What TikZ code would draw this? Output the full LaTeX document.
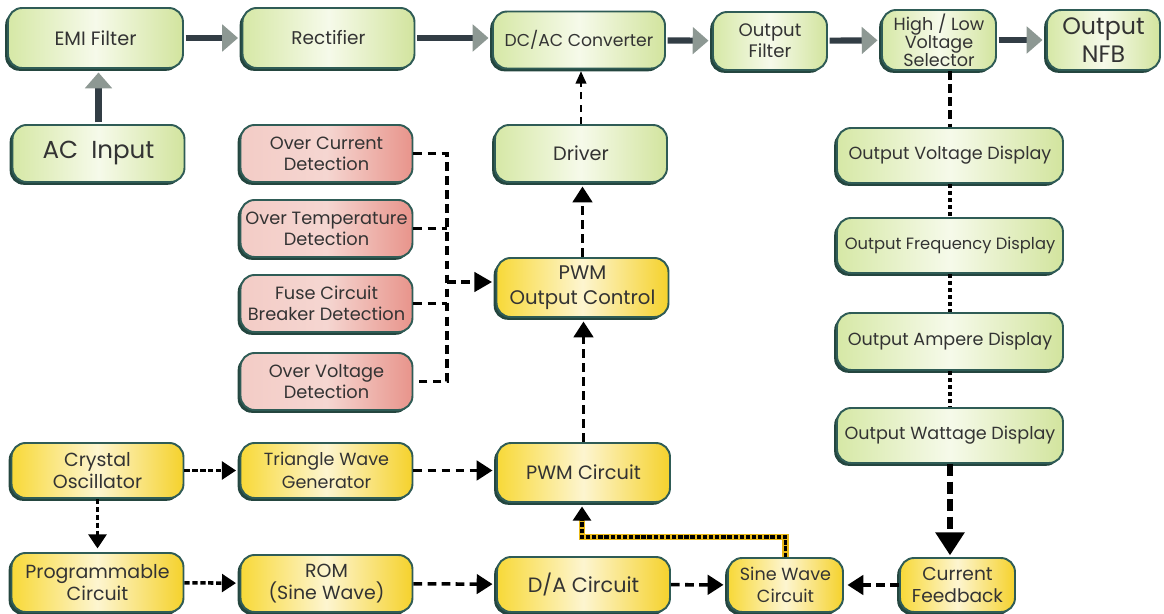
\documentclass[tikz,border=0pt]{standalone}
\usepackage{fontspec}
\setmainfont{Poppins}
\usetikzlibrary{arrows.meta}
\usetikzlibrary{shadows}
\definecolor{boxline}{HTML}{2F5C56}
\definecolor{shadowc}{HTML}{24463F}
\definecolor{txt}{HTML}{333333}
\definecolor{gA}{HTML}{D6E8A6}
\definecolor{gB}{HTML}{F6FAEA}
\definecolor{gC}{HTML}{D2E49E}
\definecolor{rA}{HTML}{F3CCC6}
\definecolor{rB}{HTML}{F5D6D1}
\definecolor{rC}{HTML}{E8948B}
\definecolor{yA}{HTML}{F8D938}
\definecolor{yB}{HTML}{FDF5D0}
\definecolor{yC}{HTML}{F5D22C}
\definecolor{arrgray}{HTML}{8D9893}
\definecolor{shaft}{HTML}{323D45}
\definecolor{ytrack}{HTML}{E8B818}
\newcommand{\fsz}[2]{\fontsize{#1}{#2}\selectfont}
\tikzset{
  box/.style={draw=boxline,line width=1.1pt,rounded corners=8pt,align=center,
    text=txt,font=\fsz{10}{12},inner sep=2pt,
    minimum width=3.44cm,minimum height=1.14cm,
    drop shadow={shadow xshift=-1.6pt,shadow yshift=-1.6pt,fill=shadowc,opacity=1}},
  gbox/.style={box,left color=gA,right color=gC,middle color=gB},
  rbox/.style={box,left color=rA,right color=rC,middle color=rB},
  ybox/.style={box,left color=yA,right color=yC,middle color=yB,font=\fsz{10.8}{13}},
  garrow/.style={draw=shaft,line width=3.5pt,shorten <=1pt,shorten >=2pt,
    -{Triangle[length=9pt,width=15pt,color=arrgray]}},
  darr/.style={line width=2pt,dash pattern=on 5pt off 3pt,shorten >=2pt,
    -{Triangle[length=9pt,width=11pt]}},
  dotarr/.style={line width=2pt,dash pattern=on 3pt off 1.5pt,shorten >=2pt,
    -{Triangle[length=8pt,width=10pt]}},
  thinarr/.style={line width=1.1pt,dash pattern=on 4pt off 3pt,shorten >=1pt,
    -{Triangle[length=7pt,width=6pt]}},
  busline/.style={line width=1.8pt,dash pattern=on 5pt off 3pt},
  sline/.style={line width=2.6pt,dash pattern=on 5pt off 2.5pt},
  dotline/.style={line width=2pt,dash pattern=on 2.5pt off 1.5pt},
  bigarr/.style={line width=3pt,dash pattern=on 7pt off 3pt,shorten >=1pt,
    -{Triangle[length=13pt,width=16pt]}}
}
\begin{document}
\begin{tikzpicture}[x=0.02cm,y=-0.02cm]
\useasboundingbox (0,0) rectangle (1164,614);
\node[gbox,minimum width=3.5cm,minimum height=1.2cm,font=\fsz{11}{13}] (emi) at (95.5,38) {EMI Filter};
\node[gbox,minimum height=1.2cm,font=\fsz{10.5}{13}] (rect) at (328.5,38) {Rectifier};
\node[gbox,font=\fsz{9.8}{12}] (dcac) at (579,40) {DC/AC Converter};
\node[gbox,minimum width=2.28cm,minimum height=1.16cm,font=\fsz{10.3}{12}] (ofilt) at (770,41) {Output\\Filter};
\node[gbox,minimum width=2.28cm,minimum height=1.2cm,
  font=\fsz{10}{10.3}] (sel) at (939,40) {High / Low\\Voltage\\Selector};
\node[gbox,minimum width=2.26cm,minimum height=1.2cm,
  font=\fsz{13.5}{16}] (nfb) at (1103.5,40) {Output\\NFB};
\node[gbox,font=\fsz{14}{16}] (acin) at (98.5,153.5) {AC\ \ Input};
\node[rbox,font=\fsz{10.1}{12}] (ocd) at (326.5,153.5) {Over Current\\Detection};
\node[rbox,font=\fsz{10.1}{12}] (otd) at (326.5,228.5) {Over Temperature\\Detection};
\node[rbox,font=\fsz{10.1}{12}] (fcb) at (326.5,303.5) {Fuse Circuit\\Breaker Detection};
\node[rbox,font=\fsz{10.1}{12}] (ovd) at (326.5,381.5) {Over Voltage\\Detection};
\node[gbox,font=\fsz{11}{13}] (drv) at (581,153.5) {Driver};
\node[ybox,minimum height=1.18cm,font=\fsz{11.2}{14}] (pwmoc) at (582.5,287.5) {PWM\\Output Control};
\node[gbox,minimum width=4.52cm,minimum height=1.1cm] (ovdisp) at (950,155.5) {Output Voltage Display};
\node[gbox,minimum width=4.52cm,minimum height=1.1cm,font=\fsz{9.3}{12}] (ofdisp) at (950,245.5) {Output Frequency Display};
\node[gbox,minimum width=4.52cm,minimum height=1.14cm] (oadisp) at (950,341.5) {Output Ampere Display};
\node[gbox,minimum width=4.52cm,minimum height=1.1cm] (owdisp) at (950,435.5) {Output Wattage Display};
\node[ybox,minimum height=1.1cm] (xtal) at (97.5,470.5) {Crystal\\Oscillator};
\node[ybox,minimum height=1.1cm,font=\fsz{10}{13}] (tri) at (326.5,470.5) {Triangle Wave\\Generator};
\node[ybox,minimum width=3.46cm,minimum height=1.18cm,font=\fsz{11}{13}] (pwmc) at (583.5,472.5) {PWM Circuit};
\node[ybox,minimum height=1.18cm] (prog) at (97.5,582.5) {Programmable\\Circuit};
\node[ybox] (rom) at (326.5,583.5) {ROM\\(Sine Wave)};
\node[ybox,minimum width=3.46cm,minimum height=1.1cm,font=\fsz{11.8}{13}] (da) at (583.5,584.5) {D/A Circuit};
\node[ybox,minimum width=2.3cm,minimum height=1.08cm,font=\fsz{10}{12.5}] (sine) at (785.5,585) {Sine Wave\\Circuit};
\node[ybox,minimum width=2.3cm,minimum height=1.08cm,font=\fsz{10.6}{12.5}] (cfb) at (957.5,585) {Current\\Feedback};
\draw[garrow] (emi) -- (rect);
\draw[garrow] (rect.east) -- (rect.east -| dcac.west);
\draw[garrow] (dcac) -- (ofilt);
\draw[garrow] (ofilt) -- (sel);
\draw[garrow] (sel) -- (nfb);
\draw[garrow] (acin) -- (acin |- emi.south);
\draw[thinarr] (drv.north) -- (drv.north |- dcac.south);
\draw[darr] (pwmoc.north) -- (pwmoc.north |- drv.south);
\draw[darr] (pwmc.north) -- (pwmc.north |- pwmoc.south);
\coordinate (bus) at (447,282);
\draw[busline] (ocd.east) -- (ocd.east -| bus) -- (ovd.east -| bus) -- (ovd.east)
  (otd.east) -- (otd.east -| bus) (fcb.east) -- (fcb.east -| bus);
\draw[busline,shorten >=2pt,-{Triangle[length=10pt,width=11pt]}] (bus) -- (bus -| pwmoc.west);
\draw[sline] (sel.south -| ovdisp.north) -- (ovdisp.north);
\draw[dotline] (ovdisp) -- (ofdisp);
\draw[dotline] (ofdisp) -- (oadisp);
\draw[dotline] (oadisp) -- (owdisp);
\draw[bigarr] (owdisp.south) -- (owdisp.south |- cfb.north);
\draw[darr] (cfb) -- (sine);
\draw[darr] (da) -- (sine);
\draw[darr] (rom) -- (da);
\draw[dotarr] (prog) -- (rom);
\draw[dotarr] (xtal) -- (tri);
\draw[dotarr] (xtal) -- (prog);
\draw[darr] (tri.east) -- (tri.east -| pwmc.west);
\coordinate (fb) at (582,537);
\draw[line width=3.6pt,draw=ytrack,shorten >=6pt] (sine.north) |- (fb) -- (fb |- pwmc.south);
\draw[dotarr,dash pattern=on 2.5pt off 1pt] (sine.north) |- (fb) -- (fb |- pwmc.south);
\end{tikzpicture}
\end{document}
